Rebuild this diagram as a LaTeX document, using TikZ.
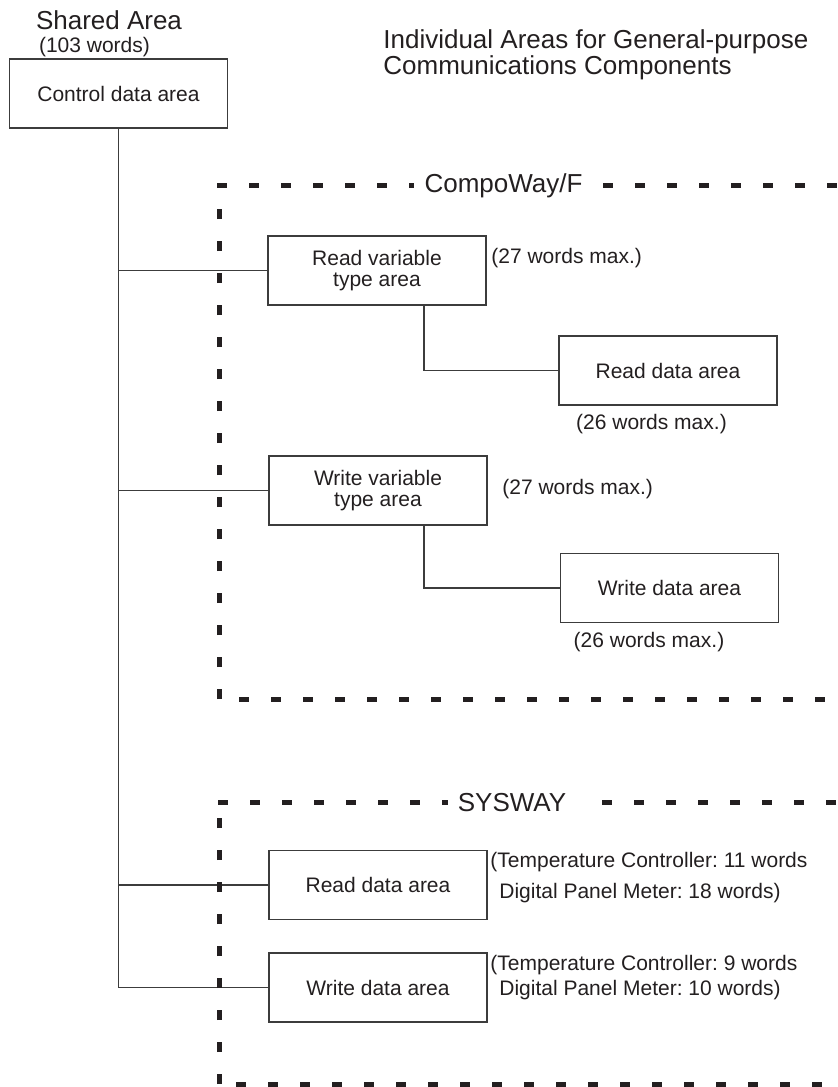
\documentclass[tikz,border=0pt]{standalone}
\usepackage{fontspec}
\setmainfont{Liberation Sans}
\usepackage{xcolor}
\definecolor{inkgrey}{RGB}{35, 31, 32}
\definecolor{boxgrey}{RGB}{60, 60, 60}
\usetikzlibrary{positioning}
\tikzset{
  areabox/.style={draw=boxgrey, line width=0.6pt, minimum width=109pt, minimum height=34.5pt,
    align=center, font=\fontsize{10.5}{10.5}\selectfont, text=inkgrey},
  notetext/.style={font=\fontsize{10.5}{15.5}\selectfont, text=inkgrey, align=left, inner sep=0pt},
  headtext/.style={font=\fontsize{13}{12}\selectfont, text=inkgrey, align=left, inner sep=0pt},
  frameline/.style={line width=2.5pt, inkgrey, dash pattern=on 5pt off 11pt},
  framelabel/.style={headtext},
  link/.style={line width=0.6pt, boxgrey},
}
\frenchspacing

\begin{document}
\begin{tikzpicture}[x=0.5pt, y=-0.5pt]
    \useasboundingbox (0,0) rectangle (838,1087);
    \clip (0,0) rectangle (838,1087);

    % shared area
    \node[headtext] (sharedhead) at (109,20) {Shared Area};
    \node[notetext] (sharedsize) at (94.5,47) {(103 words)};
    \node[areabox] (ctrl) at (118.5,93.5) {Control data area};
    \node[headtext, anchor=west] (indhead) at (383,55) {Individual Areas for General-purpose\\Communications Components};

    % CompoWay/F areas
    \node[areabox] (rvar) at (377,270.5) {Read variable\\type area};
    \node[areabox] (rdata) at (668,370.5) {Read data area};
    \node[areabox] (wvar) at (378,490.5) {Write variable\\type area};
    \node[areabox] (wdata) at (669.5,588) {Write data area};
    \node[notetext, anchor=west] (rvarsize) at (491,258) {(27 words max.)};
    \node[notetext] (rdatasize) at (651.5,424) {(26 words max.)};
    \node[notetext, anchor=west] (wvarsize) at (502,489) {(27 words max.)};
    \node[notetext] (wdatasize) at (649,642) {(26 words max.)};

    % SYSWAY areas
    \node[areabox] (srdata) at (378,885) {Read data area};
    \node[areabox] (swdata) at (378,987.5) {Write data area};
    \node[notetext, anchor=west] (srdatasize) at (490,878) {(Temperature Controller: 11 words\\\hspace*{4.5pt}Digital Panel Meter: 18 words)};
    \node[notetext, anchor=west, font=\fontsize{10.5}{12.5}\selectfont] (swdatasize) at (490,977.5) {(Temperature Controller: 9 words\\\hspace*{4.5pt}Digital Panel Meter: 10 words)};

    % connectors
    \draw[link] (ctrl.south) |- (swdata.west);
    \draw[link] (ctrl.south |- rvar.west) -- (rvar.west);
    \draw[link] (ctrl.south |- wvar.west) -- (wvar.west);
    \draw[link] (ctrl.south |- srdata.west) -- (srdata.west);
    \draw[link] ([xshift=23.5pt]rvar.south) |- (rdata.west);
    \draw[link] ([xshift=23pt]wvar.south) |- (wdata.west);

    % dashed frames
    \node[framelabel] (cwflabel) at (503.5,186) {CompoWay/F};
    \draw[frameline] (217,185) -- (414,185);
    \draw[frameline] (603,185) -- (850,185);
    \draw[frameline] (219,699) -- (219,185);
    \draw[frameline] (239,699) -- (850,699);

    \node[framelabel] (syslabel) at (512,803) {SYSWAY};
    \draw[frameline] (218,802) -- (448,802);
    \draw[frameline] (602,802) -- (850,802);
    \draw[frameline] (219,1084) -- (219,802);
    \draw[frameline] (236,1084) -- (850,1084);
\end{tikzpicture}
\end{document}
